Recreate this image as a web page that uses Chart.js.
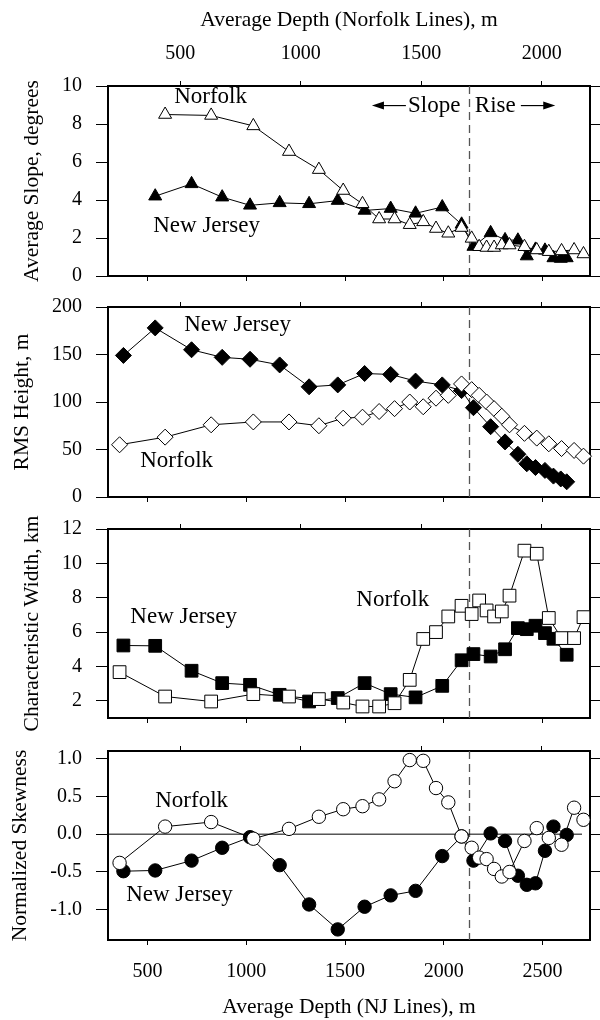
<!DOCTYPE html>
<html>
<head>
<meta charset="utf-8">
<script src="https://cdn.jsdelivr.net/npm/chart.js@4/dist/chart.umd.min.js"></script>
<style>
  body { margin: 0; background: #fff; }
  #wrap { position: relative; width: 600px; height: 1020px; }
  #wrap canvas { position: absolute; left: 0; top: 0; }
</style>
</head>
<body>
<div id="wrap">
  <canvas id="c1" width="600" height="1020"></canvas>
  <canvas id="c2" width="600" height="1020"></canvas>
  <canvas id="c3" width="600" height="1020"></canvas>
  <canvas id="c4" width="600" height="1020"></canvas>
</div>
<script>
// depths of the profile segments, m
const njDepth = [378, 539, 723, 878, 1019, 1169, 1318, 1463, 1599, 1731, 1857, 1992,
  2090, 2150, 2237, 2310, 2375, 2420, 2464, 2512, 2555, 2592, 2622];
const norDepth = [248, 437, 628, 803, 951, 1075, 1176, 1256, 1325, 1389, 1452, 1508, 1561,
  1612, 1667, 1709, 1740, 1771, 1802, 1834, 1866, 1928, 1979, 2029, 2082, 2134, 2173];

// average slope, degrees
const slopeNJ = [null, 4.2, 4.85, 4.15, 3.72, 3.85, 3.8, 3.97, 3.45, 3.55, 3.3, 3.63,
  2.72, 1.55, 2.27, 1.9, 1.88, 1.05, 1.4, 1.35, 0.95, 0.92, 0.95];
const slopeNor = [null, 8.5, 8.45, 7.9, 6.55, 5.6, 4.5, 3.8, 3.0, 3.0, 2.7, 2.85, 2.5,
  2.25, 2.55, 1.98, 1.54, 1.5, 1.5, 1.63, 1.63, 1.54, 1.37, 1.28, 1.32, 1.37, 1.16];

// rms height, m
const rmsNJ = [149, 178, 155, 147, 145, 139, 116, 118, 130, 129, 122, 118,
  112, 94, 74, 58, 45, 35, 31, 28, 22, 19, 16];
const rmsNor = [55, 63, 76, 79, 79, 75, 83, 84, 90, 93, 100, 95, 104,
  107, 119, 113, 107, 100, 93, 85, 76, 67, 62, 56, 51, 49, 43];

// characteristic width, km
const widthNJ = [5.22, 5.2, 3.75, 3.03, 2.93, 2.35, 1.96, 2.16, 3.03, 2.39, 2.2, 2.87,
  4.36, 4.72, 4.58, 5.0, 6.23, 6.17, 6.37, 5.94, 5.61, null, 4.68];
const widthNor = [3.67, 2.25, 1.96, 2.39, 2.25, 2.1, 1.9, 1.67, 1.67, 1.86, 3.22, 5.6, 6.0,
  6.91, 7.53, 7.05, 7.84, 7.26, 6.91, 7.2, 8.12, 10.74, 10.56, 6.82, 5.65, 5.65, 6.87];

// normalized skewness
const skewNJ = [-0.49, -0.48, -0.35, -0.18, -0.04, -0.41, -0.93, -1.26, -0.96, -0.81, -0.75, -0.29,
  -0.03, -0.35, 0.01, -0.09, -0.55, -0.67, -0.65, -0.22, 0.10, null, -0.01];
const skewNor = [-0.38, 0.10, 0.16, -0.06, 0.07, 0.23, 0.33, 0.37, 0.46, 0.70, 0.98, 0.97, 0.61,
  0.42, -0.03, -0.18, -0.31, -0.33, -0.46, -0.56, -0.50, -0.09, 0.08, -0.05, -0.14, 0.35, 0.19];

const njTicks = [500, 1000, 1500, 2000, 2500];
const norTicks = [500, 1000, 1500, 2000];
const slopeTicks = [0, 2, 4, 6, 8, 10];
const rmsTicks = [0, 50, 100, 150, 200];
const widthTicks = [2, 4, 6, 8, 10, 12];
const skewTicks = [-1, -0.5, 0, 0.5, 1];

const divideDepth = 2130; // slope / rise boundary (NJ depth)

const SERIF = '"Liberation Serif", "Times New Roman", serif';
const tickFont = { family: SERIF, size: 20 };
const titleFont = { family: SERIF, size: 21.5 };

function pts(xs, ys) {
  return xs.map((x, i) => ({ x: x, y: ys[i] }));
}

// dashed boundary, zero line, y title, text labels, arrows
const decor = {
  id: 'decor',
  beforeDatasetsDraw(chart, args, opts) {
    const { ctx, chartArea: a, scales } = chart;
    ctx.save();
    const xd = scales.x.getPixelForValue(divideDepth);
    ctx.strokeStyle = '#555';
    ctx.lineWidth = 1.3;
    ctx.setLineDash([8, 5]);
    ctx.beginPath();
    ctx.moveTo(xd, a.top);
    ctx.lineTo(xd, a.bottom);
    ctx.stroke();
    ctx.setLineDash([]);
    if (opts.zeroLine) {
      const y0 = scales.y.getPixelForValue(0);
      ctx.strokeStyle = '#000';
      ctx.lineWidth = 1;
      ctx.beginPath();
      ctx.moveTo(a.left, y0);
      ctx.lineTo(a.right - 8, y0);
      ctx.stroke();
    }
    ctx.restore();
  },
  afterDraw(chart, args, opts) {
    const { ctx, chartArea: a, scales } = chart;
    ctx.save();
    // y axis title, placed left of the widest tick label
    ctx.font = '20px ' + SERIF;
    let maxW = 0;
    scales.y.ticks.forEach(t => { maxW = Math.max(maxW, ctx.measureText(t.label).width); });
    const tx = a.left - 12 - 14 - maxW - 30;
    ctx.translate(tx, (a.top + a.bottom) / 2);
    ctx.rotate(-Math.PI / 2);
    ctx.font = '21.5px ' + SERIF;
    ctx.fillStyle = '#000';
    ctx.textAlign = 'center';
    ctx.textBaseline = 'middle';
    ctx.fillText(opts.yTitle, 0, 0);
    ctx.restore();

    ctx.save();
    ctx.font = '23px ' + SERIF;
    ctx.fillStyle = '#000';
    ctx.textAlign = 'left';
    ctx.textBaseline = 'middle';
    (opts.notes || []).forEach(n => {
      ctx.fillText(n.t, scales.x.getPixelForValue(n.x), scales.y.getPixelForValue(n.y));
    });
    (opts.arrows || []).forEach(ar => {
      const x1 = scales.x.getPixelForValue(ar.from);
      const x2 = scales.x.getPixelForValue(ar.to);
      const y = scales.y.getPixelForValue(ar.y);
      const dir = Math.sign(x2 - x1);
      ctx.strokeStyle = '#000';
      ctx.lineWidth = 1.2;
      ctx.beginPath();
      ctx.moveTo(x1, y);
      ctx.lineTo(x2 - dir * 10, y);
      ctx.stroke();
      ctx.beginPath();
      ctx.moveTo(x2, y);
      ctx.lineTo(x2 - dir * 12, y - 4);
      ctx.lineTo(x2 - dir * 12, y + 4);
      ctx.closePath();
      ctx.fill();
    });
    ctx.restore();
  }
};

function series(xs, ys, xAxis, style, radius, filled) {
  return {
    data: pts(xs, ys),
    xAxisID: xAxis,
    yAxisID: 'y',
    borderColor: '#000',
    borderWidth: 1,
    pointStyle: style,
    pointRadius: radius,
    pointBorderWidth: 1,
    pointBorderColor: '#000',
    pointBackgroundColor: filled ? '#000' : '#fff',
    spanGaps: true,
    tension: 0,
    fill: false,
    clip: 12
  };
}

function makePanel(id, p) {
  const first = p.top < 100;
  const last = p.bottom > 900;
  const hTop = first ? p.top : 6;
  const hBot = last ? 80 : 6;
  const yTickCb = p.decimals ? v => v.toFixed(1) : v => String(v);
  return new Chart(document.getElementById(id), {
    type: 'line',
    data: {
      datasets: [
        series(norDepth, p.nor, 'xTop', p.style, p.radius, false),
        series(njDepth, p.nj, 'x', p.style, p.radius, true)
      ]
    },
    options: {
      responsive: false,
      animation: false,
      events: [],
      layout: { padding: { left: 0, right: 0, top: p.top - hTop, bottom: 1020 - p.bottom - hBot } },
      plugins: {
        legend: { display: false },
        tooltip: { enabled: false },
        decor: { yTitle: p.yTitle, notes: p.notes, arrows: p.arrows, zeroLine: p.zeroLine }
      },
      scales: {
        x: {
          type: 'linear', position: 'bottom', min: 300, max: 2740,
          afterBuildTicks: s => { s.ticks = njTicks.map(v => ({ value: v })); },
          afterFit: s => { s.height = hBot; },
          ticks: { display: last, font: tickFont, color: '#000', padding: 15, maxRotation: 0, autoSkip: false,
            callback: v => String(v) },
          grid: { drawOnChartArea: false, drawTicks: true, tickLength: 5, color: '#000' },
          border: { display: true, color: '#000', width: 2 },
          title: { display: last, text: 'Average Depth (NJ Lines), m', font: titleFont, color: '#000',
            padding: { top: 0, bottom: 0 } }
        },
        xTop: {
          type: 'linear', position: 'top', min: 200, max: 2200,
          afterBuildTicks: s => { s.ticks = norTicks.map(v => ({ value: v })); },
          afterFit: s => { s.height = hTop; },
          ticks: { display: first, font: tickFont, color: '#000', padding: 15, maxRotation: 0, autoSkip: false,
            callback: v => String(v) },
          grid: { drawOnChartArea: false, drawTicks: true, tickLength: 5, color: '#000' },
          border: { display: true, color: '#000', width: 2 },
          title: { display: first, text: 'Average Depth (Norfolk Lines), m', font: titleFont, color: '#000',
            padding: { top: 7, bottom: 0 } }
        },
        y: {
          type: 'linear', position: 'left', min: p.min, max: p.max,
          afterBuildTicks: s => { s.ticks = p.ticks.map(v => ({ value: v })); },
          afterFit: s => { s.width = 108; },
          ticks: { font: tickFont, color: '#000', padding: 14, callback: yTickCb },
          grid: { drawOnChartArea: false, drawTicks: true, tickLength: 12, color: '#000' },
          border: { display: true, color: '#000', width: 2 }
        },
        yR: {
          type: 'linear', position: 'right', min: p.min, max: p.max,
          afterBuildTicks: s => { s.ticks = p.ticks.map(v => ({ value: v })); },
          afterFit: s => { s.width = 10; },
          ticks: { display: false },
          grid: { drawOnChartArea: false, drawTicks: true, tickLength: 10, color: '#000' },
          border: { display: true, color: '#000', width: 2 }
        }
      }
    },
    plugins: [decor]
  });
}

makePanel('c1', {
  top: 86, bottom: 276, min: 0, max: 10, ticks: slopeTicks,
  nj: slopeNJ, nor: slopeNor, style: 'triangle', radius: 7.5,
  yTitle: 'Average Slope, degrees',
  notes: [
    { t: 'Norfolk', x: 635, y: 9.42 },
    { t: 'New Jersey', x: 529, y: 2.63 },
    { t: 'Slope', x: 1819, y: 8.97 },
    { t: 'Rise', x: 2157, y: 8.97 }
  ],
  arrows: [
    { from: 1808, to: 1636, y: 8.97 },
    { from: 2390, to: 2564, y: 8.97 }
  ]
});

makePanel('c2', {
  top: 307, bottom: 497, min: 0, max: 200, ticks: rmsTicks,
  nj: rmsNJ, nor: rmsNor, style: 'rectRot', radius: 8,
  yTitle: 'RMS Height, m',
  notes: [
    { t: 'New Jersey', x: 686, y: 181 },
    { t: 'Norfolk', x: 463, y: 38 }
  ]
});

makePanel('c3', {
  top: 529, bottom: 718, min: 1, max: 12, ticks: widthTicks,
  nj: widthNJ, nor: widthNor, style: 'rect', radius: 9,
  yTitle: 'Characteristic Width, km',
  notes: [
    { t: 'New Jersey', x: 413, y: 6.91 },
    { t: 'Norfolk', x: 1557, y: 7.88 }
  ]
});

makePanel('c4', {
  top: 751, bottom: 940, min: -1.4, max: 1.1, ticks: skewTicks, decimals: true,
  nj: skewNJ, nor: skewNor, style: 'circle', radius: 6.7,
  yTitle: 'Normalized Skewness', zeroLine: true,
  notes: [
    { t: 'Norfolk', x: 539, y: 0.44 },
    { t: 'New Jersey', x: 392, y: -0.81 }
  ]
});
</script>
</body>
</html>
